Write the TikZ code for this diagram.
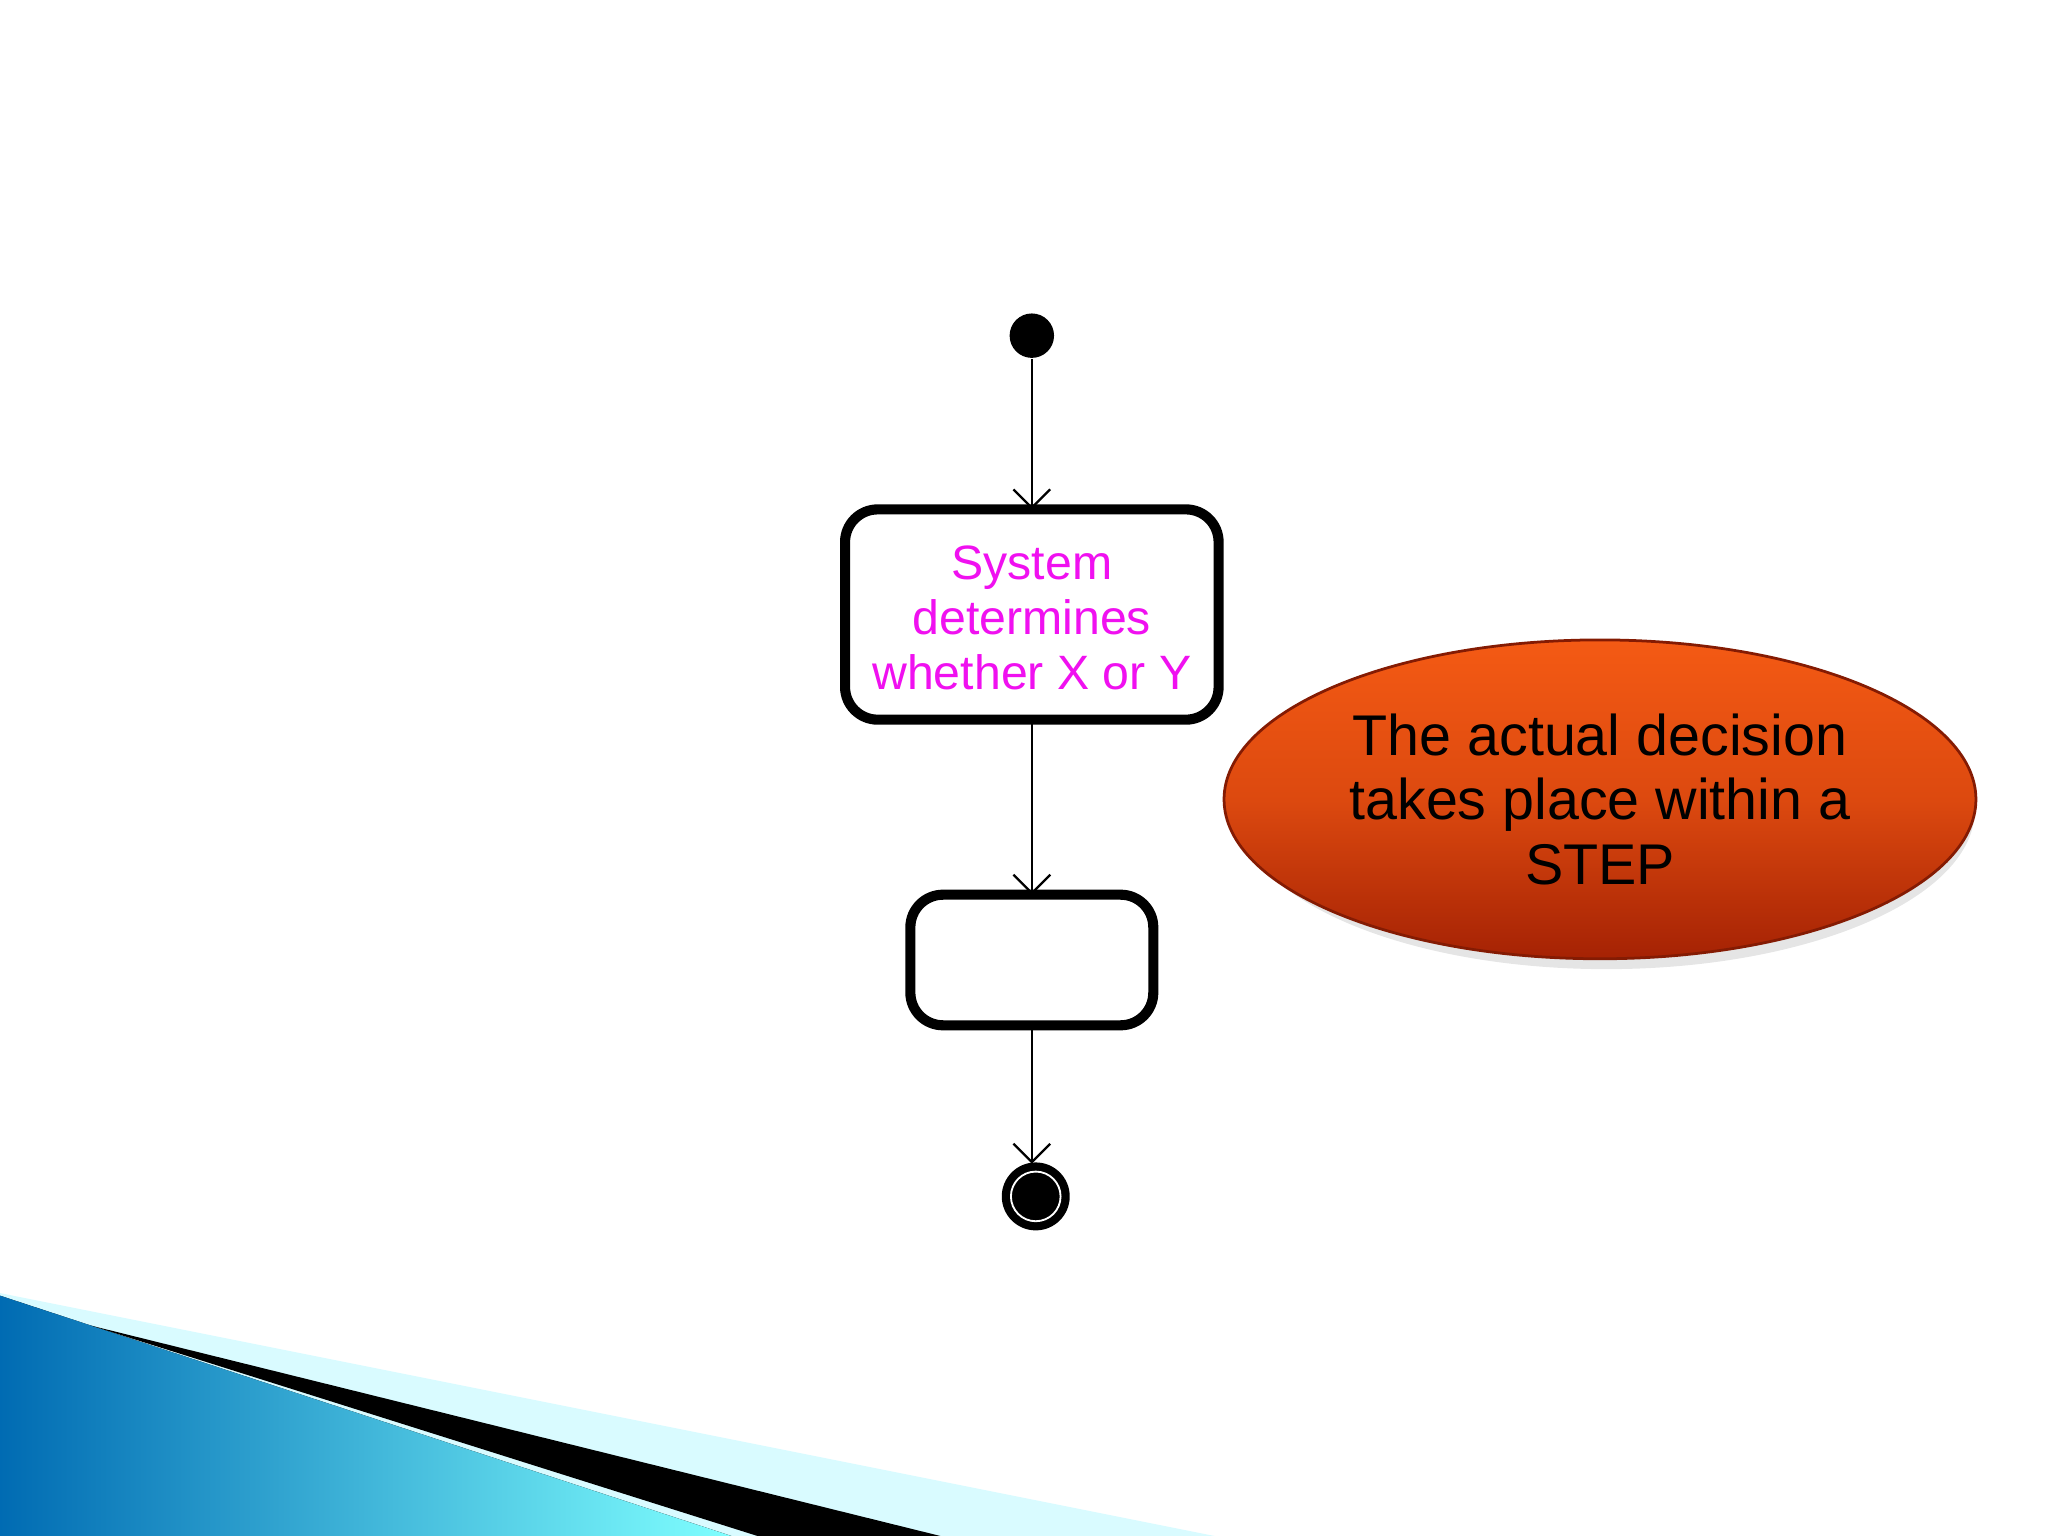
\documentclass[tikz,border=0pt]{standalone}
\usepackage{fontspec}
\setmainfont{Liberation Sans}
\usetikzlibrary{arrows.meta,shapes.geometric}
\definecolor{mag}{HTML}{F010F0}
\definecolor{orA}{HTML}{F45A14}
\definecolor{orB}{HTML}{A52204}
\begin{document}
\begin{tikzpicture}[x=0.01cm,y=-0.01cm,
  act/.style={draw=black,line width=2.2pt,rounded corners=0.25cm,fill=white},
  conn/.style={draw=black,line width=0.5pt,-{Straight Barb[length=4pt,width=8pt]}}]
\useasboundingbox (0,0) rectangle (1568,1176);
% bottom decoration
\fill[blue!10!cyan!15] (0,990) -- (930,1176) -- (0,1176) -- cycle;
\fill[left color=cyan!60!blue!70!black,right color=cyan!50] (0,992) -- (560,1176) -- (0,1176) -- cycle;
\fill[black] (70,1015) -- (720,1176) -- (580,1176) -- cycle;
% nodes
\node[circle,fill=black,minimum size=0.34cm,inner sep=0] (s) at (790,257) {};
\draw[act] (647,390) rectangle (933,551);
\node[text=mag,align=center,font=\fontsize{10.5pt}{12pt}\selectfont] (a) at (790,473) {System\\determines\\whether X or Y};
\coordinate (atop) at (790,390); \coordinate (abot) at (790,551);
\draw[act] (697,685) rectangle (883,785);
\coordinate (btop) at (790,685); \coordinate (bbot) at (790,785);
\node[circle,fill=black,minimum size=0.52cm,inner sep=0] (e) at (793,916) {};
\draw[white,line width=0.4pt] (e) circle (0.19cm);
\coordinate (etop) at (790,891);
\draw[conn] (s) -- (atop);
\draw[conn] (abot) -- (btop);
\draw[conn] (bbot) -- (etop);
% ellipse
\fill[black!20,opacity=0.5] (1230,620) ellipse (282 and 122);
\node[ellipse,minimum width=5.64cm,minimum height=2.44cm,draw=orB!80!black,line width=0.6pt,top color=orA,bottom color=orB,middle color=orA!70!orB,align=center,font=\fontsize{12.5pt}{14pt}\selectfont] (n) at (1225,612) {The actual decision\\takes place within a\\STEP};
\end{tikzpicture}
\end{document}
